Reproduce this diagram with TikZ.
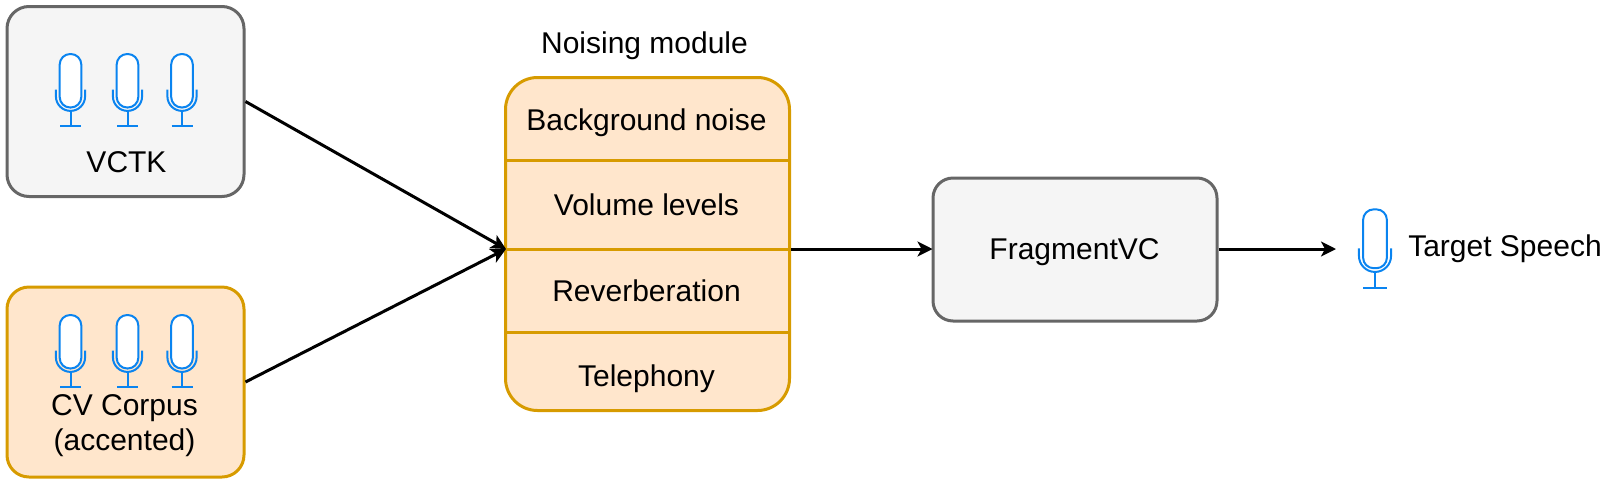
\documentclass[tikz,border=0pt]{standalone}
\usepackage{fontspec}
\setmainfont{Liberation Sans}
\usetikzlibrary{arrows.meta}
\definecolor{grayfill}{HTML}{F5F5F5}
\definecolor{graydraw}{HTML}{666666}
\definecolor{orfill}{HTML}{FFE6CC}
\definecolor{ordraw}{HTML}{D79B00}
\definecolor{micblue}{HTML}{0A84F0}
\tikzset{
  box/.style={draw, line width=3pt, rounded corners=#1, inner sep=0pt, anchor=north west},
  graybox/.style={box=22pt, draw=graydraw, fill=grayfill},
  orbox/.style={box=22pt, draw=ordraw, fill=orfill},
  lbl/.style={font=\fontsize{30}{35.5}\selectfont, inner sep=0pt, align=center},
  divider/.style={draw=ordraw, line width=3pt},
  conn/.style={draw=black, line width=3pt, -{Stealth[length=15pt,width=15pt,inset=4pt]}},
  pics/mic/.style={code={
    \draw[micblue, line width=2pt, fill=white, rounded corners=10.5pt]
      (-10.8,-18) rectangle (10.8,-71.5);
    \draw[micblue, line width=2pt]
      (-14.6,-36) -- (-14.6,-29.2) arc[start angle=180,end angle=0,x radius=14.6,y radius=14.6] -- (14.6,-36);
    \draw[micblue, line width=2pt] (0,-14.6) -- (0,0) (-10.5,0) -- (10.5,0);
  }}
}
\begin{document}
\begin{tikzpicture}[x=1pt,y=-1pt]
\useasboundingbox (0,0) rectangle (1612,483);
\node[graybox, minimum width=237pt, minimum height=190pt] (vctk) at (5.5,5) {};
\node[orbox, minimum width=237pt, minimum height=190pt] (cv) at (5.5,285.5) {};
\node[box=32pt, draw=ordraw, fill=orfill, minimum width=284pt, minimum height=333pt] (noise) at (504,76) {};
\node[graybox, rounded corners=20pt, minimum width=284pt, minimum height=143pt] (frag) at (931.5,176.5) {};
\path[divider] (noise.west |- 0,160.5) -- (noise.east |- 0,160.5);
\path[divider] (noise.west |- 0,249) -- (noise.east |- 0,249);
\path[divider] (noise.west |- 0,332) -- (noise.east |- 0,332);
\coordinate (nin) at ([xshift=2pt]noise.west |- 0,249);
\coordinate (nout) at (noise.east |- 0,249);
\coordinate (fin) at ([xshift=1pt]frag.west |- 0,249);
\foreach \x in {70.5,127.5,182} {
  \pic at (\x,125.5) {mic};
  \pic at (\x,386.5) {mic};
}
\pic[scale=1.1] at (1375,288) {mic};
\node[lbl] (t0) at (644.5,46) {Noising module};
\node[lbl] (t1) at (646.5,123) {Background noise};
\node[lbl] (t2) at (646.5,205) {Volume levels};
\node[lbl] (t3) at (646.5,291) {Reverberation};
\node[lbl] (t4) at (646.5,379) {Telephony};
\node[lbl] (t5) at (126.5,162) {VCTK};
\node[lbl] (t6) at (124.5,425.5) {CV Corpus\\(accented)};
\node[lbl] (t7) at (1074.5,252) {FragmentVC};
\node[lbl] (t8) at (1505,248.5) {Target Speech};
\coordinate (out) at (1336,249);
\draw[conn] (vctk.east) -- (nin);
\draw[conn] (cv.east) -- (nin);
\draw[conn] (nout) -- (fin);
\draw[conn] (frag.east |- nout) -- (out);
\end{tikzpicture}
\end{document}
